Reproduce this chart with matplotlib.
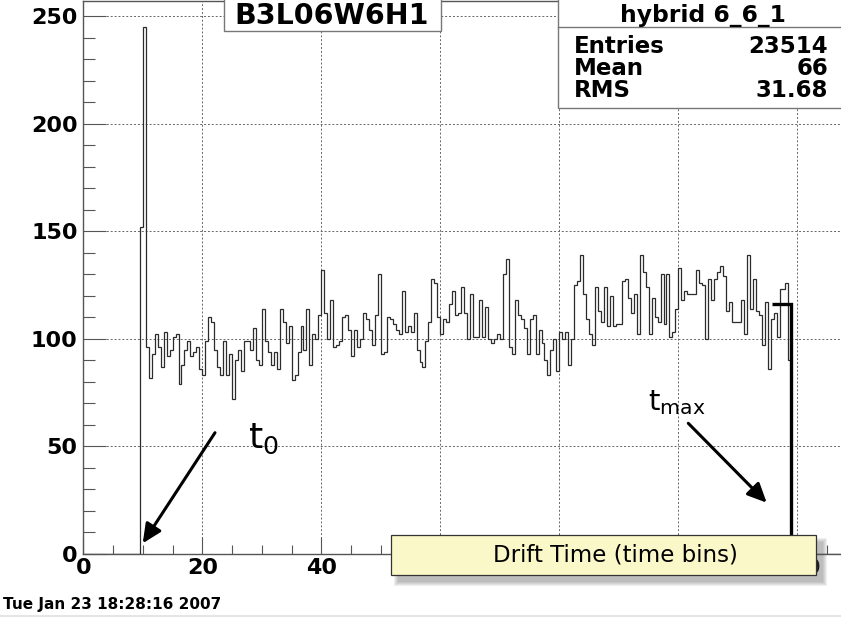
import numpy as np
import matplotlib
matplotlib.use('Agg')
import matplotlib.pyplot as plt
from matplotlib.patches import Rectangle, FancyArrowPatch
from matplotlib.lines import Line2D
from matplotlib.ticker import MultipleLocator

plt.rcParams['font.family'] = ['DejaVu Sans']

# ---------------- data ----------------
hist_title = "B3L06W6H1"
stats_name = "hybrid 6_6_1"
stats_labels = ["Entries", "Mean", "RMS"]
stats_values = ["23514", "66", "31.68"]
date_text = "Tue Jan 23 18:28:16 2007"
x_title = "Drift Time (time bins)"

nbins, xmin, xmax = 256, 0.0, 128.0
first_bin = 19   # first filled bin (x = 9.5)

counts_peak = [152, 245]
counts_a = [96, 82, 93, 102, 96, 87, 103, 92, 95, 101, 102, 79, 88, 95, 99, 92, 94, 96, 86, 83,
            99, 110, 108, 95, 87, 83, 99, 83, 93, 72, 90, 95, 85, 99, 99, 95, 105, 90, 88, 114,
            99, 94, 88, 94, 86, 114, 108, 98, 106, 81, 83, 94, 106, 95, 114, 88, 102, 100, 111, 132,
            112, 100, 118, 96, 97, 99, 110, 111, 104, 92, 104, 96, 100, 112, 109, 104, 97, 111, 130]
counts_b = [93, 94, 110, 109, 107, 104, 102, 122, 103, 106, 103, 112, 95, 89, 87, 99, 108, 128, 126, 110,
            102, 109, 108, 116, 122, 111, 112, 124, 112, 100, 121, 101, 101, 118, 101, 115, 100, 98, 100, 102,
            100, 130, 137, 96, 93, 118, 111, 109, 105, 93, 109, 111, 93, 104, 98, 90, 83, 95, 100, 85,
            103, 100, 103, 88, 100, 125, 127, 139, 121, 109, 102, 97, 124, 113]
counts_c = [108, 124, 106, 120, 106, 107, 107, 127, 128, 119, 112, 121, 102, 139, 131, 124, 102, 119, 110, 108,
            130, 107, 130, 101, 103, 114, 133, 118, 122, 121, 121, 121, 132, 126, 125, 100, 128, 118, 128, 131,
            134, 129, 113, 117, 108, 108, 108, 118, 102, 139, 114, 128, 113, 111, 97, 117, 86, 109, 112, 101,
            123, 123, 126, 90]

x_ticks = [0, 20, 40, 60, 80, 100, 120]
x_tick_labels = ["0", "20", "40", "60", "80", "100", "120"]
y_ticks = [0, 50, 100, 150, 200, 250]
y_tick_labels = ["0", "50", "100", "150", "200", "250"]

# t_max marker (annotation)
tmax_x, tmax_y, tmax_x0 = 118.9, 116.2, 115.7

# ---------------- figure ----------------
W, H = 841, 618
fig = plt.figure(figsize=(W / 100, H / 100), dpi=100)
fig.patch.set_facecolor('white')


def fx(px):
    return px / W


def fy(py):
    return 1 - py / H


x0, x1 = 83.3, 845.0
ytop, ybot = 0.5, 554.0
ax = fig.add_axes([fx(x0), fy(ybot), (x1 - x0) / W, (ybot - ytop) / H])

counts = np.array(counts_peak + counts_a + counts_b + counts_c, dtype=float)
edges = np.linspace(xmin, xmax, nbins + 1)
full = np.zeros(nbins)
full[first_bin:first_bin + len(counts)] = counts
ax.stairs(full, edges, color='#2b2b2b', lw=0.9, zorder=3)

ax.set_xlim(xmin, xmax)
ax.set_ylim(0, 257.2)
ax.set_xticks(x_ticks)
ax.set_xticklabels(x_tick_labels, fontweight='bold', fontsize=16)
ax.set_yticks(y_ticks)
ax.set_yticklabels(y_tick_labels, fontweight='bold', fontsize=16)
ax.xaxis.set_minor_locator(MultipleLocator(5))
ax.yaxis.set_minor_locator(MultipleLocator(10))
ax.tick_params(axis='x', which='major', direction='in', length=12.2, width=0.8, color='#555555', pad=3.0)
ax.tick_params(axis='x', which='minor', direction='in', length=6.5, width=0.8, color='#555555')
ax.tick_params(axis='y', which='major', direction='in', length=16.6, width=0.8, color='#555555', pad=4.0)
ax.tick_params(axis='y', which='minor', direction='in', length=8.6, width=0.8, color='#555555')
ax.grid(True, which='major', ls=(0, (2, 2)), color='#666666', lw=0.7, zorder=1)
ax.set_axisbelow(True)
for s in ax.spines.values():
    s.set_color('#555555')
    s.set_linewidth(1.0)

# t_max marker
ax.plot([tmax_x0, tmax_x, tmax_x], [tmax_y, tmax_y, 0], color='black', lw=2.4, zorder=4,
        solid_joinstyle='miter', solid_capstyle='butt')

# title box
fig.add_artist(Rectangle((fx(224), fy(30.7)), (441 - 224) / W, (30.7 + 3) / H, transform=fig.transFigure,
                         facecolor='white', edgecolor='#777777', lw=1.0, zorder=5))
fig.text(fx(332), fy(16), hist_title, ha='center', va='center', fontsize=20.5, fontweight='bold', zorder=6)

# stats box
fig.add_artist(Rectangle((fx(558.3), fy(108.3)), (860 - 558.3) / W, (108.3 + 3) / H, transform=fig.transFigure,
                         facecolor='white', edgecolor='#777777', lw=1.0, zorder=5))
fig.add_artist(Line2D([fx(558.3), fx(845)], [fy(26.7), fy(26.7)], transform=fig.transFigure,
                      color='#777777', lw=1.0, zorder=6))
fig.text(fx(702.5), fy(21.7), stats_name, ha='center', va='baseline', fontsize=16.8, fontweight='bold', zorder=6)
for lab, val, base in zip(stats_labels, stats_values, [52.7, 75.0, 96.7]):
    fig.text(fx(574), fy(base), lab, ha='left', va='baseline', fontsize=16.5, fontweight='bold', zorder=6)
    fig.text(fx(828.3), fy(base), val, ha='right', va='baseline', fontsize=16.5, fontweight='bold', zorder=6)

# date
fig.text(fx(3), fy(605), date_text, ha='left', va='center', fontsize=11, fontweight='bold')

# bottom separator
fig.add_artist(Line2D([0, 1], [fy(615.5), fy(615.5)], transform=fig.transFigure, color='#e0e0e0', lw=1.2))

# x-title box with shadow
bx0, bx1, by0, by1 = 391, 815.7, 535, 574.7
for k in range(5):
    e = 4 - k
    fig.add_artist(Rectangle((fx(bx0 + 7 - e), fy(by1 + 7 + e)), (bx1 - bx0 + 2 * e) / W, (by1 - by0 + 2 * e) / H,
                             transform=fig.transFigure, facecolor='#555555', edgecolor='none', alpha=0.09, zorder=7))
fig.add_artist(Rectangle((fx(bx0), fy(by1)), (bx1 - bx0) / W, (by1 - by0) / H, transform=fig.transFigure,
                         facecolor='#FAF7C8', edgecolor='#333333', lw=0.9, zorder=8))
fig.text(fx(615), fy(555), x_title, ha='center', va='center', fontsize=16.5, zorder=9)

# annotations t0 and tmax
fig.text(fx(248), fy(448), r'$\mathregular{t_0}$', ha='left', va='baseline', fontsize=26, zorder=9)
fig.text(fx(648), fy(410), r'$\mathregular{t_{max}}$', ha='left', va='baseline', fontsize=21, zorder=9)

for (sx, sy), (ex, ey) in [((215, 432.7), (142.7, 543.3)), ((688.3, 423.3), (766.7, 502.7))]:
    fig.add_artist(FancyArrowPatch((fx(sx), fy(sy)), (fx(ex), fy(ey)), transform=fig.transFigure,
                                   arrowstyle='-|>,head_length=0.58,head_width=0.27', mutation_scale=20,
                                   lw=2.2, color='black', shrinkA=0, shrinkB=0, zorder=9))

fig.savefig('out.png', dpi=100)
